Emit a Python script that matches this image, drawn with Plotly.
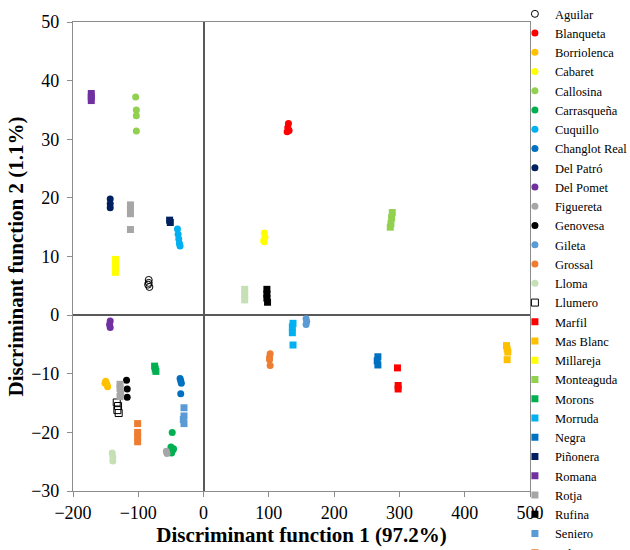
import plotly.graph_objects as go

varieties = ["Aguilar", "Blanqueta", "Borriolenca", "Cabaret", "Callosina", "Carrasqueña",
             "Cuquillo", "Changlot Real", "Del Patró", "Del Pomet", "Figuereta", "Genovesa",
             "Gileta", "Grossal", "Lloma", "Llumero", "Marfil", "Mas Blanc", "Millareja",
             "Monteaguda", "Morons", "Morruda", "Negra", "Piñonera", "Romana", "Rotja",
             "Rufina", "Seniero", "Valentins", "Vallesa", "Vera"]

df1 = [
    [-84, -85, -83, -84],            # Aguilar
    [130, 129, 131, 128],            # Blanqueta
    [-150, -148, -147, -151],        # Borriolenca
    [93, 94, 92, 93],                # Cabaret
    [-104, -103, -103, -103],        # Callosina
    [-48, -50, -47, -49, -46],       # Carrasqueña
    [-40, -39, -38, -37, -36],       # Cuquillo
    [-36, -35, -34, -35],            # Changlot Real
    [-143, -143, -143],              # Del Patró
    [-143, -144, -143],              # Del Pomet
    [-57, -56],                      # Figuereta
    [-118, -117, -117],              # Genovesa
    [157, 158, 157],                 # Gileta
    [102, 101, 101, 102],            # Grossal
    [-140, -139, -139],              # Lloma
    [-133, -131, -132, -130],        # Llumero
    [297, 298, 298],                 # Marfil
    [464, 465, 466, 465],            # Mas Blanc
    [-135, -135, -135, -135],        # Millareja
    [289, 288, 287, 286],            # Monteaguda
    [-75, -74, -73],                 # Morons
    [137, 136, 136, 137],            # Morruda
    [267, 266, 267],                 # Negra
    [-52, -51],                      # Piñonera
    [-172, -172, -172],              # Romana
    [-128, -128, -127, -128],        # Rotja
    [97, 97, 97, 98],                # Rufina
    [-30, -30, -31, -30],            # Seniero
    [-101, -101, -101, -101],        # Valentins
    [-112, -112, -112, -112],        # Vallesa
    [63, 63, 63],                    # Vera
]

df2 = [
    [6.0, 5.2, 4.8, 5.5],            # Aguilar
    [32.7, 32.0, 31.5, 31.3],        # Blanqueta
    [-11.3, -11.8, -12.2, -11.6],    # Borriolenca
    [14.0, 13.3, 12.7, 12.5],        # Cabaret
    [37.2, 35.0, 34.0, 31.4],        # Callosina
    [-20.0, -22.5, -23.0, -23.5, -22.8],  # Carrasqueña
    [14.7, 13.8, 13.0, 12.2, 11.8],  # Cuquillo
    [-10.8, -11.2, -11.6, -13.4],    # Changlot Real
    [19.8, 19.0, 18.3],              # Del Patró
    [-1.0, -1.6, -2.1],              # Del Pomet
    [-23.2, -23.6],                  # Figuereta
    [-11.1, -12.6, -14.0],           # Genovesa
    [-0.6, -1.1, -1.6],              # Gileta
    [-6.6, -7.2, -7.6, -8.6],        # Grossal
    [-23.5, -24.2, -24.9],           # Lloma
    [-14.9, -15.5, -16.2, -16.7],    # Llumero
    [-9.0, -12.0, -12.6],            # Marfil
    [-5.2, -5.8, -6.3, -7.6],        # Mas Blanc
    [9.5, 8.8, 8.0, 7.3],            # Millareja
    [17.5, 16.6, 15.6, 15.0],        # Monteaguda
    [-8.7, -9.2, -9.6],              # Morons
    [-1.4, -2.0, -3.0, -5.1],        # Morruda
    [-7.1, -7.8, -8.5],              # Negra
    [16.2, 15.8],                    # Piñonera
    [37.8, 37.2, 36.6],              # Romana
    [-11.8, -12.5, -13.4, -13.9],    # Rotja
    [4.4, 3.6, 2.9, 2.2],            # Rufina
    [-15.8, -17.2, -17.8, -18.5],    # Seniero
    [-18.5, -20.0, -20.8, -21.6],    # Valentins
    [18.8, 18.0, 17.3, 14.6],        # Vallesa
    [4.4, 3.5, 2.6],                 # Vera
]

colors = ["#000000", "#FF0000", "#FFC000", "#FFFF00", "#92D050", "#00B050",
          "#00B0F0", "#0070C0", "#002060", "#7030A0", "#A6A6A6", "#000000",
          "#5B9BD5", "#ED7D31", "#C5E0B4", "#000000", "#FF0000", "#FFC000",
          "#FFFF00", "#92D050", "#00B050", "#00B0F0", "#0070C0", "#002060",
          "#7030A0", "#A6A6A6", "#000000", "#5B9BD5", "#ED7D31", "#A6A6A6", "#C5E0B4"]

symbols = ["circle-open"] + ["circle"] * 14 + ["square-open"] + ["square"] * 15

x_ticks = [-200, -100, 0, 100, 200, 300, 400, 500]
y_ticks = [-30, -20, -10, 0, 10, 20, 30, 40, 50]

fig = go.Figure()
for name, xs, ys, c, s in zip(varieties, df1, df2, colors, symbols):
    fig.add_trace(go.Scatter(
        x=xs, y=ys, mode="markers", name=name,
        marker=dict(color=c, symbol=s, size=7,
                    line=dict(width=1, color=c) if "open" in s else dict(width=0)),
    ))

axis_common = dict(
    showgrid=False, zeroline=True, zerolinecolor="#595959", zerolinewidth=1.5,
    showline=True, linecolor="#8C8C8C", linewidth=1.2, mirror=True,
    ticks="outside", ticklen=5, tickcolor="#8C8C8C", automargin=False,
    tickfont=dict(family="Liberation Serif", size=18, color="#000000"),
)

fig.update_layout(
    width=630, height=550,
    margin=dict(l=73, r=100, t=22, b=59, autoexpand=False),
    plot_bgcolor="white", paper_bgcolor="white",
    xaxis=dict(range=[-200, 500], tickvals=x_ticks, ticklabelstandoff=0,
               title=dict(text="<b>Discriminant function 1 (97.2%)</b>",
                          font=dict(family="Liberation Serif", size=21, color="#000000"),
                          standoff=2),
               **axis_common),
    yaxis=dict(range=[-30, 50], tickvals=y_ticks, ticklabelstandoff=4,
               title=dict(text="<b>Discriminant function 2 (1.1%)</b>",
                          font=dict(family="Liberation Serif", size=21, color="#000000"),
                          standoff=1),
               **axis_common),
    legend=dict(x=0.967, y=1.0486, xanchor="left", yanchor="top",
                font=dict(family="Liberation Serif", size=12.5, color="#000000"),
                itemwidth=30, tracegroupgap=0, bgcolor="rgba(0,0,0,0)",
                maxheight=2000),
    showlegend=True,
)

fig.write_html("out.html", config={"displayModeBar": False},
               post_script="document.body.style.margin='0';")
